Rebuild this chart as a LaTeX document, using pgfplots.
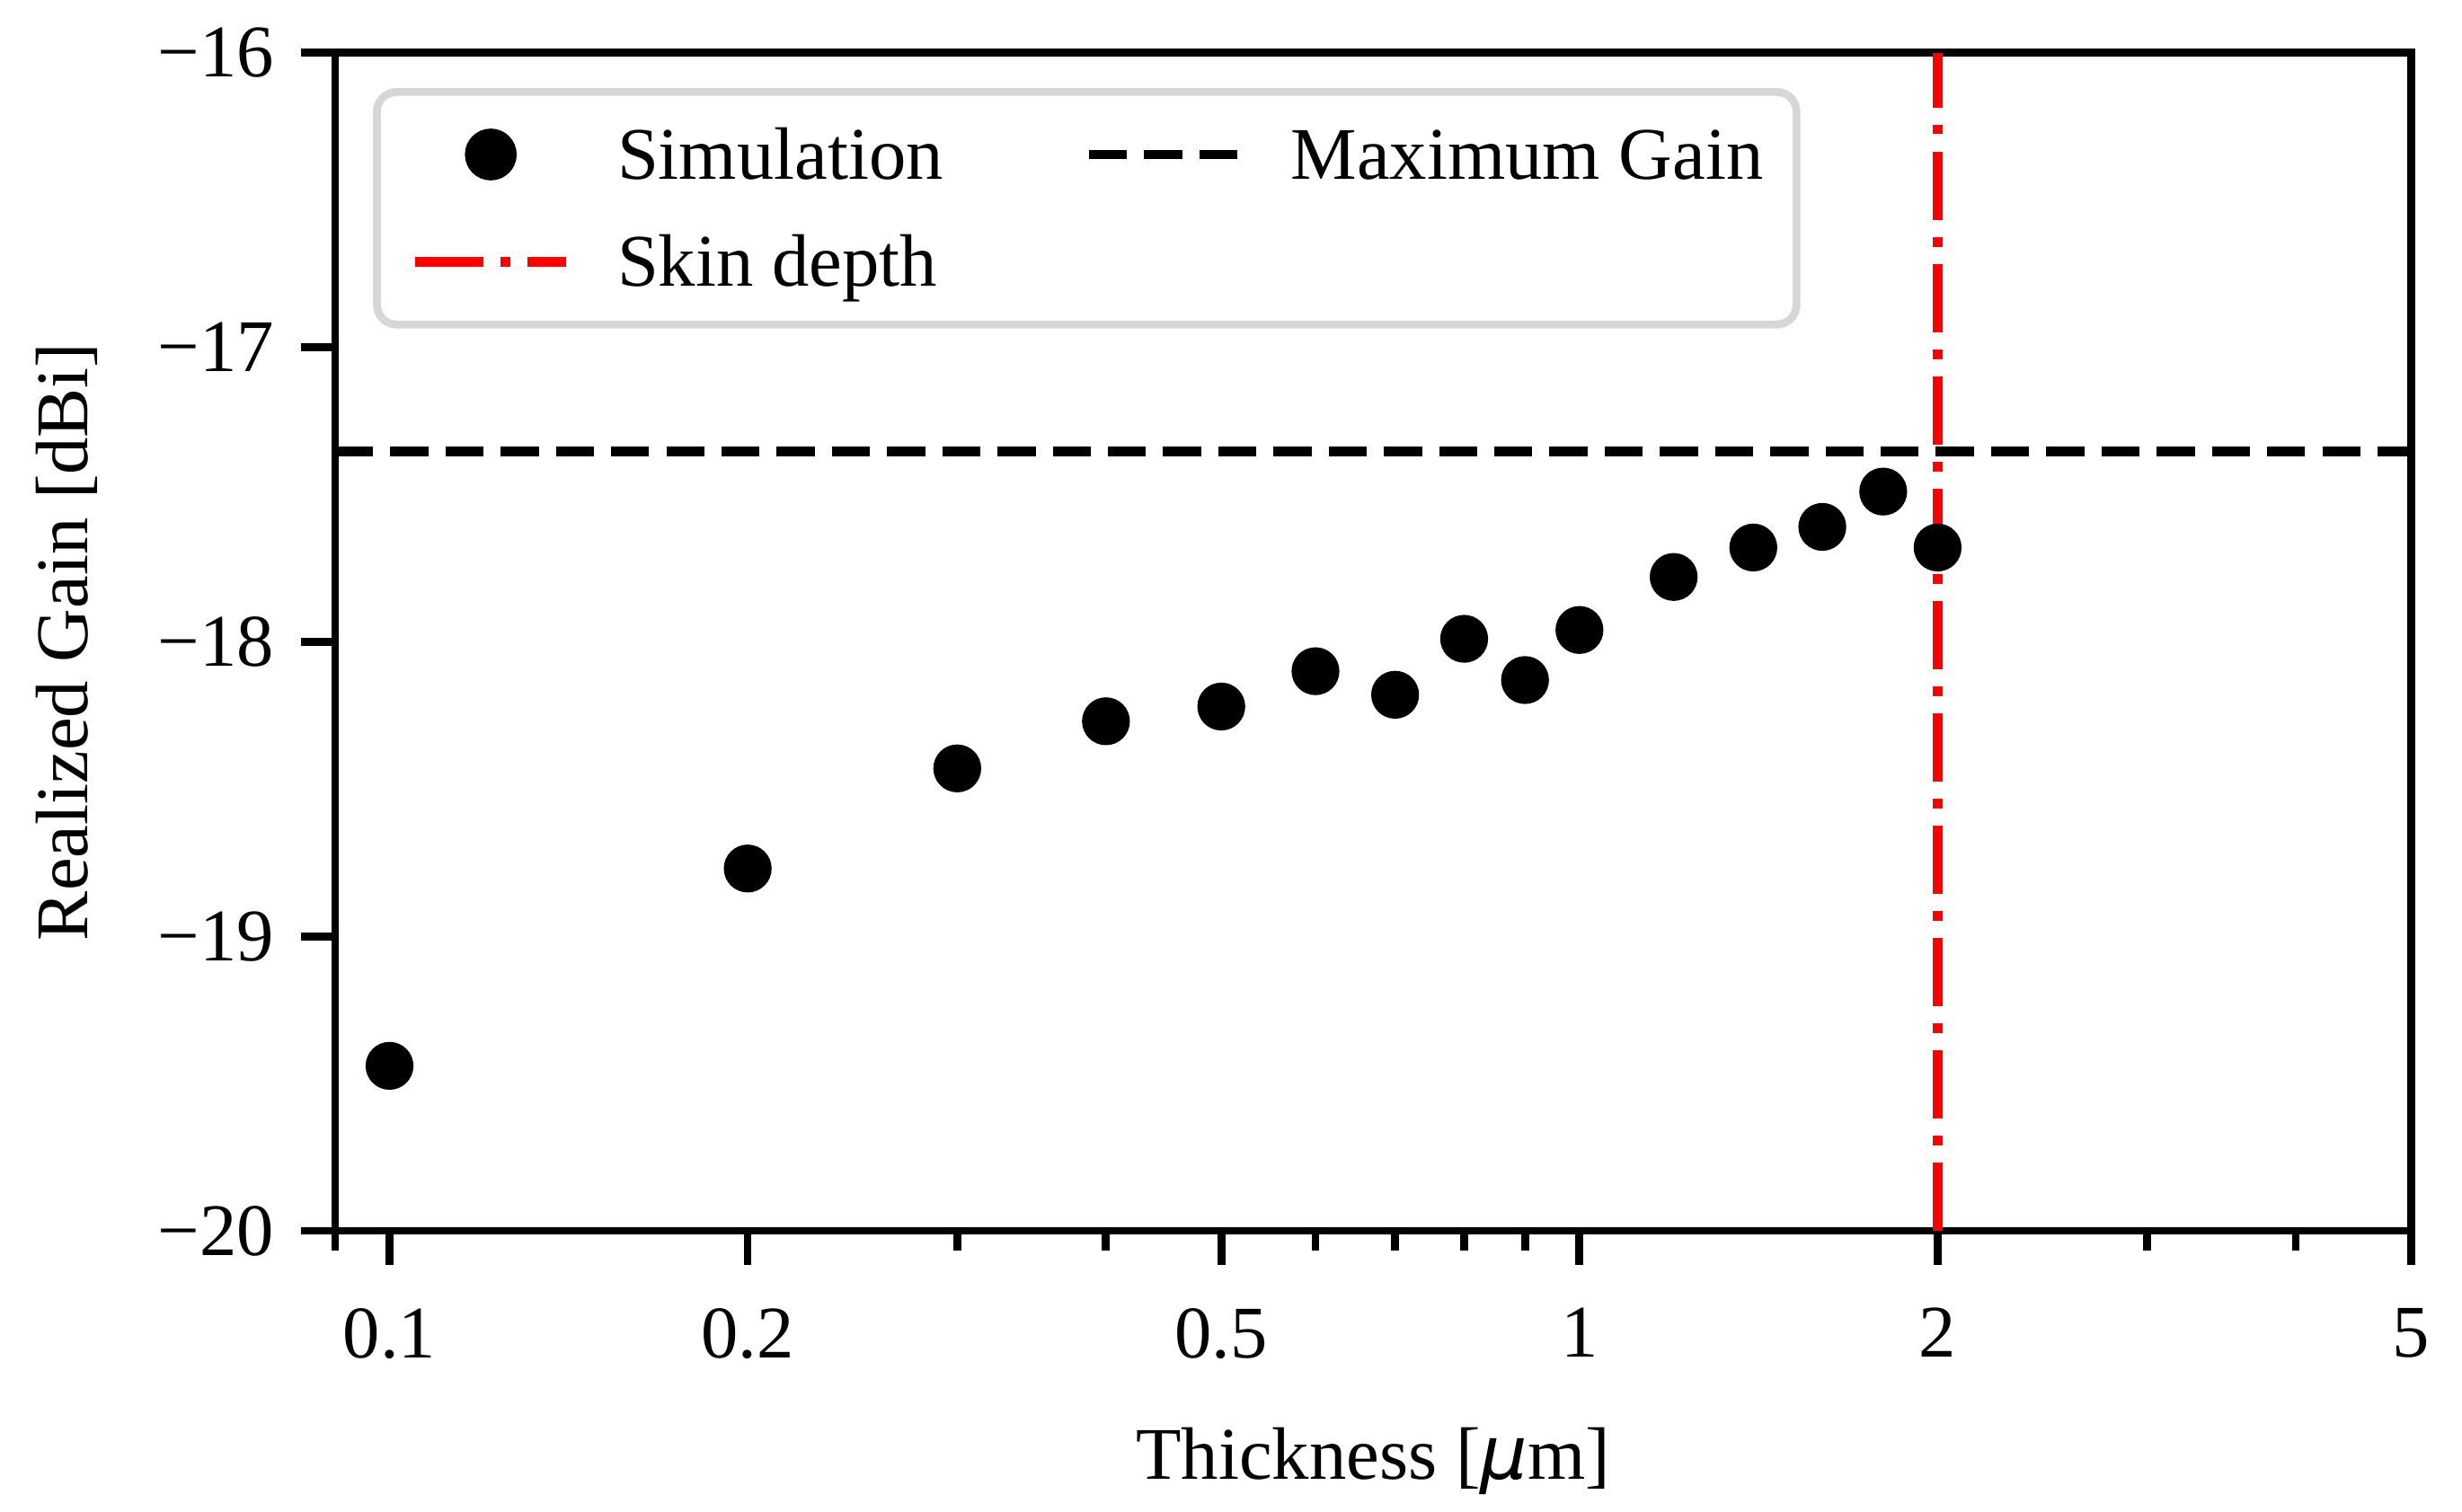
\documentclass[border=0pt]{standalone}
\usepackage{fontspec}
\setmainfont{Liberation Serif}
\newfontfamily\dejavu{DejaVu Sans}
\usepackage{pgfplots}
\pgfplotsset{compat=1.18}
\definecolor{legframe}{RGB}{214,214,214}
\pgfplotsset{
  lineleg/.style={legend image code/.code={\draw[##1] (0pt,0pt) -- (15.5pt,0pt);}},
  dotleg/.style={legend image code/.code={
      \path[draw=none,fill=none] (0pt,0pt) -- (15.5pt,0pt);
      \fill[black] (7.75pt,0pt) circle (2.25pt);}},
}

\begin{document}
\fontsize{7.6pt}{9.1pt}\selectfont
\begin{tikzpicture}
  \begin{axis}[
      name=ax,
      scale only axis,
      width=212.5pt, height=120.6pt,
      xmode=log, log basis x=10,
      xmin=0.09, xmax=5,
      ymin=-20, ymax=-16,
      xtick={0.1,0.2,0.5,1,2,5},
      xticklabels={0.1,0.2,0.5,1,2,5},
      minor xtick={0.09,0.3,0.4,0.6,0.7,0.8,0.9,3,4},
      ytick={-20,-19,-18,-17,-16},
      yticklabels={−20,−19,−18,−17,−16},
      minor ytick={},
      tick align=outside,
      xtick pos=bottom, ytick pos=left,
      major tick length=3.5pt,
      minor tick length=2pt,
      tick style={black, line width=0.8pt},
      axis line style={line width=0.8pt},
      ticklabel style={font=\fontsize{7.6pt}{9.1pt}\selectfont},
      xticklabel style={yshift=-1.7pt},
      label style={font=\fontsize{7.6pt}{9.1pt}\selectfont},
      xlabel={Thickness [{\dejavu\itshape μ}m]},
      ylabel={Realized Gain [dBi]},
      xlabel style={at={(axis description cs:0.5,-0.2106)}, anchor=base},
      ylabel style={at={(axis description cs:-0.119,0.5)}, anchor=base},
      legend columns=2,
      legend cell align=left,
      legend style={
        at={(0.0183,0.970)}, anchor=north west,
        draw=legframe, line width=0.8pt, rounded corners=2pt,
        fill=white,
        font=\fontsize{7.6pt}{9.1pt}\selectfont,
        inner xsep=3.4pt, inner ysep=2.4pt,
        nodes={inner sep=0pt, text height=6.5pt, text depth=1.5pt},
        row sep=3pt,
        /tikz/every odd column/.append style={column sep=4.7pt},
        /tikz/every even column/.append style={column sep=14.4pt},
      },
    ]
    % simulated gain against conductor thickness
    \addplot[only marks, mark=*, mark size=2.25pt, black, dotleg]
      coordinates {
        (0.1,-19.44) (0.2,-18.77) (0.3,-18.43) (0.4,-18.27) (0.5,-18.22)
        (0.6,-18.10) (0.7,-18.18) (0.8,-17.99) (0.9,-18.13) (1.0,-17.96)
        (1.2,-17.78) (1.4,-17.68) (1.6,-17.61) (1.8,-17.49) (2.0,-17.68)
      };
    \addlegendentry{Simulation}

    \addplot[black, line width=1pt, dash pattern=on 3.9pt off 1.75pt, lineleg]
      coordinates {(0.09,-17.355) (5,-17.355)};
    \addlegendentry{Maximum Gain}

    \addplot[red, line width=1pt,
      dash pattern=on 7pt off 1.75pt on 1pt off 1.75pt, lineleg]
      coordinates {(2,-20) (2,-16)};
    \addlegendentry{Skin depth}
  \end{axis}
  \pgfresetboundingbox
  \path (ax.south west) ++(-34.3pt,-28.7pt) (ax.north east) ++(5.2pt,5.4pt);
\end{tikzpicture}
\end{document}
